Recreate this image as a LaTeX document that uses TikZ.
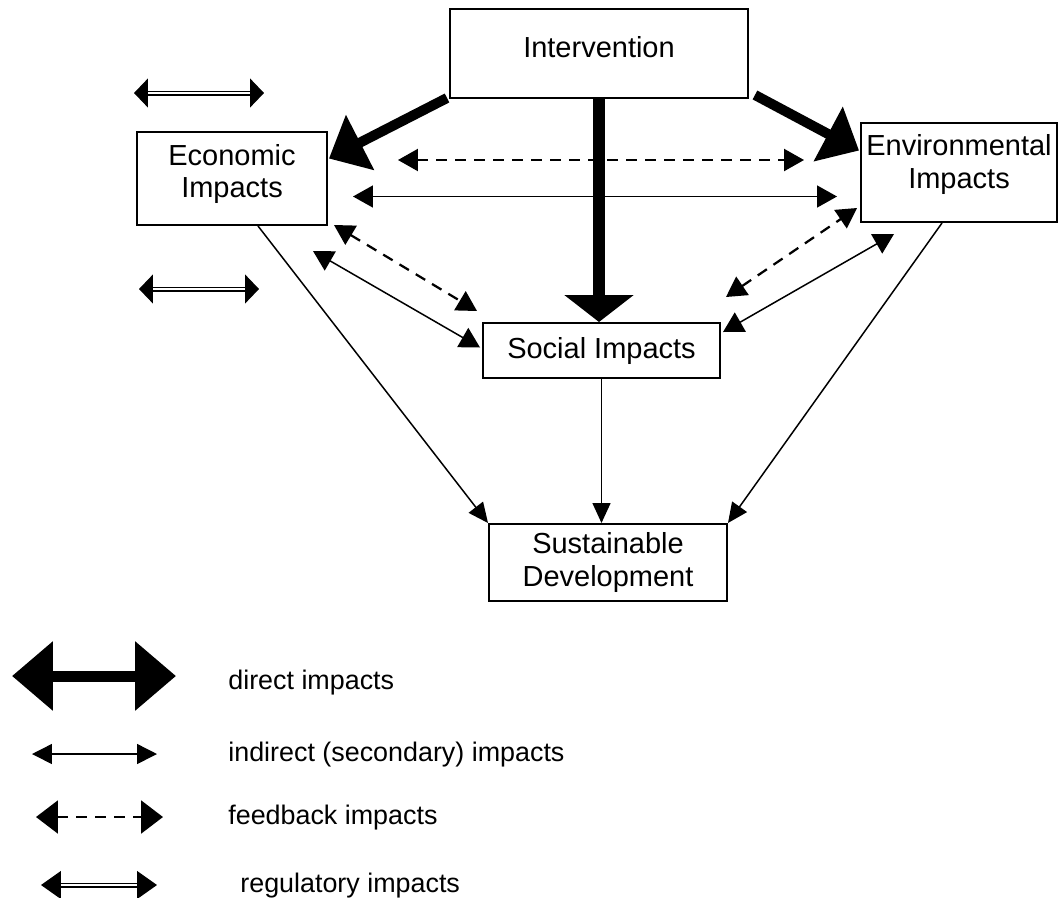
\documentclass[tikz,border=0pt]{standalone}
\usepackage{fontspec}
\setmainfont{Liberation Sans}
\usetikzlibrary{arrows.meta,positioning,calc}

\begin{document}
\begin{tikzpicture}[
    x=0.02cm, y=-0.02cm,
    box/.style={rectangle, draw, line width=0.04cm, align=center, inner sep=0pt, font=\fontsize{16.5}{18.5}\selectfont},
    direct/.style={line width=0.2cm, -{Triangle[length=0.7cm, width=1.2cm]}},
    indirect/.style={line width=0.03cm, {Triangle[length=0.4cm, width=0.44cm]}-{Triangle[length=0.4cm, width=0.44cm]}},
    feedback/.style={indirect, line width=0.045cm, dash pattern=on 0.22cm off 0.16cm},
    oneway/.style={line width=0.03cm, -{Triangle[length=0.4cm, width=0.36cm]}},
    regulatory/.style={double, line width=0.025cm, double distance=0.05cm, {Triangle[length=0.28cm, width=0.58cm]}-{Triangle[length=0.28cm, width=0.58cm]}},
    legtext/.style={anchor=west, inner sep=0pt, font=\fontsize{15.3}{18}\selectfont}
]
\useasboundingbox (0,0) rectangle (1058,897);

% boxes
\node[box, minimum width=5.96cm, minimum height=1.78cm, text depth=0.26cm] (interv) at (599,53.5) {Intervention};
\node[box, minimum width=3.8cm, minimum height=1.86cm, text depth=0.3cm] (econ) at (232,178.5) {Economic\\Impacts};
\node[box, minimum width=3.92cm, minimum height=1.98cm, text depth=0.45cm] (env) at (959,172.5) {Environmental\\Impacts};
\node[box, minimum width=4.74cm, minimum height=1.1cm] (social) at (601.5,350.5) {Social Impacts};
\node[box, minimum width=4.76cm, minimum height=1.54cm] (sust) at (608,562.5) {Sustainable\\Development};

% direct impacts
\draw[direct] ([shift={(-2,-1)}]interv.south west) -- ([shift={(1,-20)}]econ.east);
\draw[direct] ([shift={(6,-4)}]interv.south east) -- ([shift={(-1,-22)}]env.west);
\draw[direct, line width=0.24cm, -{Triangle[length=0.54cm, width=1.36cm]}] (interv.south) -- (interv.south |- social.north);

% indirect and feedback impacts
\draw[feedback] ([shift={(70,-18.5)}]econ.east) -- ([shift={(-56,-12.5)}]env.west);
\draw[indirect] ([shift={(25,18)}]econ.east) -- ([shift={(-23,24)}]env.west);
\draw[feedback] ([shift={(6,-1)}]econ.south east) -- ([shift={(-5,-11)}]social.north west);
\draw[indirect] ([shift={(-15,25)}]econ.south east) -- ([shift={(-2,-3)}]social.west);
\draw[feedback] ([shift={(5,-25)}]social.north east) -- ([shift={(-3,-15)}]env.south west);
\draw[indirect] ([shift={(2,10)}]social.north east) -- ([shift={(34,11)}]env.south west);

\draw[oneway] ([shift={(26,0)}]econ.south) -- (sust.north west);
\draw[oneway] ([shift={(-17,0)}]env.south) -- (sust.north east);
\draw[oneway] (social.south) -- (social.south |- sust.north);

% regulatory impacts
\coordinate (regA1) at (134,93);
\coordinate (regA2) at (264,93);
\coordinate (regB1) at (139,289);
\coordinate (regB2) at (259,289);
\draw[regulatory] (regA1) -- (regA2);
\draw[regulatory] (regB1) -- (regB2);

% legend
\coordinate (dirL) at (12,676);
\coordinate (dirR) at (176,676);
\coordinate (indL) at (32,754);
\coordinate (indR) at (157,754);
\coordinate (fbL) at (36,817);
\coordinate (fbR) at (163,817);
\coordinate (regL) at (41,885);
\coordinate (regR) at (157,885);
\draw[direct, line width=0.22cm, {Triangle[length=0.82cm, width=1.34cm]}-{Triangle[length=0.82cm, width=1.34cm]}] (dirL) -- (dirR);
\draw[indirect, {Triangle[length=0.4cm, width=0.4cm]}-{Triangle[length=0.4cm, width=0.4cm]}] (indL) -- (indR);
\draw[feedback, {Triangle[length=0.44cm, width=0.66cm]}-{Triangle[length=0.44cm, width=0.66cm]}] (fbL) -- (fbR);
\draw[regulatory, {Triangle[length=0.4cm, width=0.56cm]}-{Triangle[length=0.4cm, width=0.56cm]}] (regL) -- (regR);

\node[legtext] (ldirect) at (228,683) {direct impacts};
\node[legtext] (lindirect) at (228,755) {indirect (secondary) impacts};
\node[legtext] (lfeedback) at (228,818) {feedback impacts};
\node[legtext] (lregul) at (240,886) {regulatory impacts};
\end{tikzpicture}
\end{document}
